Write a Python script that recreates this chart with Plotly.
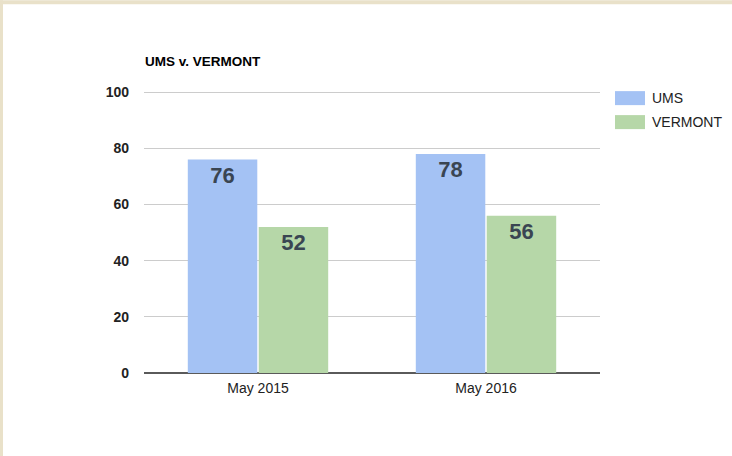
import plotly.graph_objects as go

categories = ["May 2015", "May 2016"]
ums_values = [76, 78]
vermont_values = [52, 56]
series_names = ["UMS", "VERMONT"]
y_ticks = [0, 20, 40, 60, 80, 100]
title_text = "UMS v. VERMONT"

W, H = 732, 456
Y_TOP = 100.4
L, R, B = 144, 600, 373
T = B - (B - 92) * Y_TOP / 100.0
PW, PH = R - L, B - T


def px_x(px):
    return (px - L) / PW


def px_y(py):
    return (B - py) / PH


colors = ["#a4c2f4", "#b6d7a8"]
FONT = "Liberation Sans, Arial, sans-serif"

fig = go.Figure()
for name, vals, col in zip(series_names, [ums_values, vermont_values], colors):
    fig.add_trace(go.Bar(
        x=categories, y=vals, name=name,
        marker=dict(color=col, line=dict(width=0)),
        text=vals, texttemplate="%{y}",
        textposition="inside", insidetextanchor="end", textangle=0,
        constraintext="none",
        textfont=dict(family=FONT, size=22, color="#3a4552", weight="bold"),
        hoverinfo="skip",
    ))

shapes = [
    # beige frame edges
    dict(type="rect", xref="paper", yref="paper", x0=px_x(0), x1=px_x(W), y0=px_y(4), y1=px_y(0),
         fillcolor="#e9e1c9", line=dict(width=0), layer="above"),
    dict(type="rect", xref="paper", yref="paper", x0=px_x(0), x1=px_x(3), y0=px_y(H), y1=px_y(0),
         fillcolor="#e9e1c9", line=dict(width=0), layer="above"),
]
annotations = [
    dict(text=title_text, xref="paper", yref="paper", x=px_x(143), y=px_y(61),
         xanchor="left", yanchor="middle", showarrow=False,
         font=dict(family=FONT, size=13.5, color="#000000", weight="bold")),
]
legend_y = [98, 122]
for name, col, cy in zip(series_names, colors, legend_y):
    shapes.append(dict(type="rect", xref="paper", yref="paper",
                       x0=px_x(615), x1=px_x(645), y0=px_y(cy + 7), y1=px_y(cy - 7),
                       fillcolor=col, line=dict(width=0)))
    annotations.append(dict(text=name, xref="paper", yref="paper", x=px_x(650), y=px_y(cy),
                            xanchor="left", yanchor="middle", showarrow=False,
                            font=dict(family=FONT, size=14, color="#222222")))

fig.update_layout(
    width=W, height=H,
    margin=dict(l=L, r=W - R, t=T, b=H - B, pad=0),
    paper_bgcolor="white", plot_bgcolor="white",
    barmode="group", bargap=0.378, bargroupgap=0.02,
    showlegend=False,
    shapes=shapes, annotations=annotations,
    font=dict(family=FONT),
)
fig.update_xaxes(
    showgrid=False, showline=False, ticks="", zeroline=False,
    ticklabelstandoff=5,
    tickfont=dict(family=FONT, size=14, color="#222222"),
)
fig.update_yaxes(
    range=[0, Y_TOP], tickvals=y_ticks, showgrid=True, gridcolor="#cccccc", gridwidth=1,
    zeroline=True, zerolinecolor="#5a5a5a", zerolinewidth=1.5,
    showline=False, ticks="", ticklabelstandoff=14,
    tickfont=dict(family=FONT, size=14, color="#222222", weight="bold"),
)

fig.write_html(
    "out.html",
    config={"displayModeBar": False},
    post_script="document.body.style.margin='0';document.body.style.padding='0';",
)
